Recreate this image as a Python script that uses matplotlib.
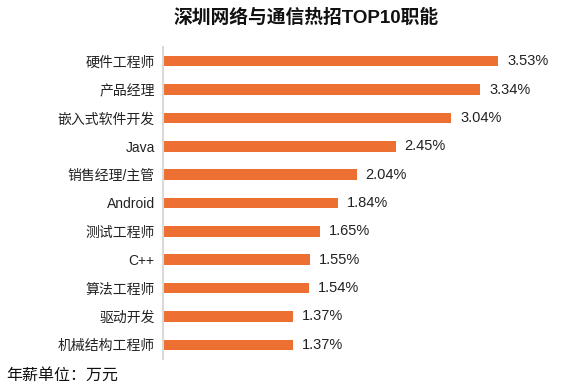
import matplotlib
matplotlib.use("Agg")
import matplotlib.pyplot as plt

plt.rcParams['font.family'] = ['Liberation Sans', 'Noto Sans CJK SC', 'DejaVu Sans']

categories = ["硬件工程师", "产品经理", "嵌入式软件开发", "Java", "销售经理/主管",
              "Android", "测试工程师", "C++", "算法工程师", "驱动开发", "机械结构工程师"]
values = [3.53, 3.34, 3.04, 2.45, 2.04, 1.84, 1.65, 1.55, 1.54, 1.37, 1.37]
value_labels = ["3.53%", "3.34%", "3.04%", "2.45%", "2.04%", "1.84%", "1.65%",
                "1.55%", "1.54%", "1.37%", "1.37%"]
title = "深圳网络与通信热招TOP10职能"
footnote = "年薪单位：万元"

W, H = 569, 389
fig = plt.figure(figsize=(W / 100, H / 100), dpi=100)
left, right = 163, 569
top, bottom = 47, 359
ax = fig.add_axes([left / W, 1 - bottom / H, (right - left) / W, (bottom - top) / H])

n = len(categories)
ypos = list(range(n))
ax.barh(ypos, values, height=0.37, color="#ED7032", left=0)
ax.set_ylim(n - 0.5, -0.5)
ax.set_xlim(0, (right - left) / 94.9)
ax.set_yticks(ypos)
ax.set_yticklabels(categories, fontsize=10, color="#222222")
ax.tick_params(axis='y', length=0, pad=6)
ax.set_xticks([])
for s in ["top", "right", "bottom"]:
    ax.spines[s].set_visible(False)
ax.spines["left"].set_color("#D9D9D9")
ax.spines["left"].set_linewidth(1.5)

for y, v, lab in zip(ypos, values, value_labels):
    ax.annotate(lab, xy=(v, y), xytext=(6.5, 0), textcoords="offset points",
                va="center", ha="left", fontsize=10.5, color="#222222")

fig.text(306 / W, 1 - 18 / H, title, ha="center", va="center",
         fontsize=13.5, fontweight="bold", color="#111111")
fig.text(6 / W, 1 - 375 / H, footnote, ha="left", va="center",
         fontsize=11.5, color="#111111")

fig.savefig("out.png", dpi=100, facecolor="white")
